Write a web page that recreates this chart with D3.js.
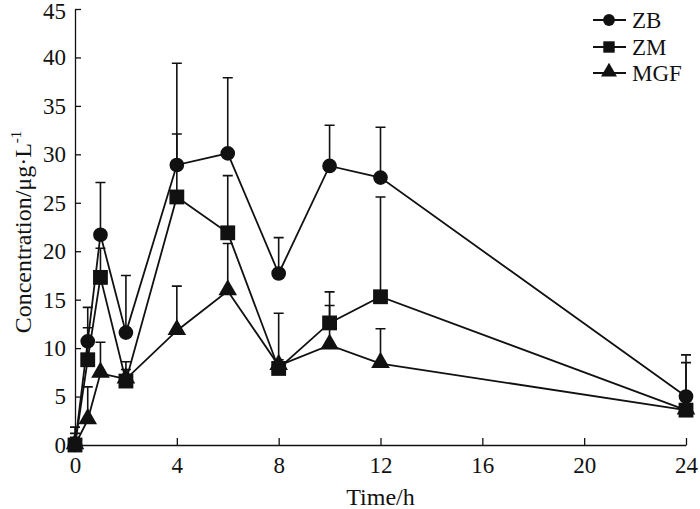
<!DOCTYPE html>
<html>
<head>
<meta charset="utf-8">
<script src="https://cdn.jsdelivr.net/npm/d3@7"></script>
<style>
  body { margin: 0; background: #fff; }
  svg text { font-family: "Liberation Serif", "DejaVu Serif", serif; fill: #111; }
</style>
</head>
<body>
<div id="chart"></div>
<script>
// sampling times (h)
var times = [0, 0.5, 1, 2, 4, 6, 8, 10, 12, 24];

// mean concentrations and upper error (SD)
var zb     = [0, 10.7, 21.7, 11.6, 28.9, 30.1, 17.7, 28.8, 27.6, 5.0];
var zbErr  = [1.85, 3.5, 5.4, 5.9, 10.5, 7.8, 3.7, 4.2, 5.2, 4.3];
var zm     = [0, 8.8, 17.3, 6.6, 25.6, 21.9, 7.9, 12.6, 15.3, 3.6];
var zmErr  = [1.2, 3.3, 3.0, 2.0, 6.5, 5.9, 5.7, 3.2, 10.3, 4.9];
var mgf    = [0, 2.6, 7.4, 6.8, 11.8, 15.9, 8.2, 10.3, 8.4, 3.6];
var mgfErr = [0.8, 3.4, 3.2, 1.0, 4.6, 4.9, 0.6, 4.1, 3.6, 0.5];

var xTicks = [0, 4, 8, 12, 16, 20, 24];
var yTicks = [0, 5, 10, 15, 20, 25, 30, 35, 40, 45];

var seriesNames = ["ZB", "ZM", "MGF"];
var seriesVals = [zb, zm, mgf];
var seriesErrs = [zbErr, zmErr, mgfErr];
var seriesShapes = [d3.symbolCircle, d3.symbolSquare, d3.symbolTriangle];

var width = 700, height = 509;
var margin = {top: 9, right: 14, bottom: 64, left: 75};
var ink = "#111";

var svg = d3.select("#chart")
    .append("svg")
    .attr("width", width)
    .attr("height", height);

var x = d3.scaleLinear()
    .domain([0, 24])
    .range([margin.left, width - margin.right]);

var y = d3.scaleLinear()
    .domain([0, 45])
    .range([height - margin.bottom, margin.top]);

// axes, ticks pointing inward
var xAxis = svg.append("g")
    .attr("transform", "translate(0," + y(0) + ")")
    .call(d3.axisBottom(x)
        .tickValues(xTicks)
        .tickSizeInner(-7)
        .tickSizeOuter(0)
        .tickPadding(12));

var yAxis = svg.append("g")
    .attr("transform", "translate(" + x(0) + ",0)")
    .call(d3.axisLeft(y)
        .tickValues(yTicks)
        .tickSizeInner(-6)
        .tickSizeOuter(0)
        .tickPadding(9));

[xAxis, yAxis].forEach(function(a) {
    a.selectAll("path, line").attr("stroke", ink).attr("stroke-width", 1.3);
    a.selectAll("text")
        .style("font-family", "Liberation Serif")
        .style("font-size", "23px")
        .attr("fill", ink);
});
// keep the top label inside the picture
yAxis.selectAll(".tick text").filter(function(d) { return d === 45; }).attr("dy", "0.4em");

// axis titles
svg.append("text")
    .attr("x", (x(0) + x(24)) / 2)
    .attr("y", 505)
    .attr("text-anchor", "middle")
    .style("font-size", "24px")
    .text("Time/h");

var yTitle = svg.append("text")
    .attr("transform", "translate(31," + 232 + ") rotate(-90)")
    .attr("text-anchor", "middle")
    .style("font-size", "24px");
yTitle.append("tspan").text("Concentration/μg·L");
yTitle.append("tspan")
    .attr("dy", -10)
    .style("font-size", "15px")
    .text("-1");

var line = d3.line()
    .x(function(d) { return x(d[0]); })
    .y(function(d) { return y(d[1]); });

var capW = 5;

seriesVals.forEach(function(vals, s) {
    var pts = times.map(function(t, i) { return [t, vals[i], seriesErrs[s][i]]; });
    var g = svg.append("g").attr("class", "series-" + seriesNames[s]);

    // upper error bars
    g.selectAll(".err")
        .data(pts)
        .enter()
        .append("path")
        .attr("class", "err")
        .attr("fill", "none")
        .attr("stroke", ink)
        .attr("stroke-width", 1.6)
        .attr("d", function(d) {
            var cx = x(d[0]), y0 = y(d[1]), y1 = y(d[1] + d[2]);
            return "M" + cx + "," + y0 + "V" + y1 +
                   "M" + (cx - capW) + "," + y1 + "H" + (cx + capW);
        });

    g.append("path")
        .datum(pts)
        .attr("fill", "none")
        .attr("stroke", ink)
        .attr("stroke-width", 1.8)
        .attr("d", line);
});

// markers on top of everything
var symSizes = [170, 220, 150];
seriesVals.forEach(function(vals, s) {
    svg.append("g")
        .selectAll("path")
        .data(times.map(function(t, i) { return [t, vals[i]]; }))
        .enter()
        .append("path")
        .attr("transform", function(d) {
            var off = s === 2 ? -1 : 0;
            return "translate(" + x(d[0]) + "," + (y(d[1]) + off) + ")";
        })
        .attr("d", d3.symbol().type(seriesShapes[s]).size(symSizes[s]))
        .attr("fill", ink);
});

// legend
var legendY = [20, 47, 73];
var legend = svg.append("g").attr("class", "legend");
seriesNames.forEach(function(name, i) {
    var row = legend.append("g").attr("transform", "translate(0," + legendY[i] + ")");
    row.append("line")
        .attr("x1", 593).attr("x2", 626)
        .attr("stroke", ink).attr("stroke-width", 1.8);
    row.append("path")
        .attr("transform", "translate(609," + (i === 2 ? -1 : 0) + ")")
        .attr("d", d3.symbol().type(seriesShapes[i]).size([110, 130, 110][i]))
        .attr("fill", ink);
    row.append("text")
        .attr("x", 632)
        .attr("dy", "0.35em")
        .style("font-size", "23px")
        .text(name);
});
</script>
</body>
</html>
